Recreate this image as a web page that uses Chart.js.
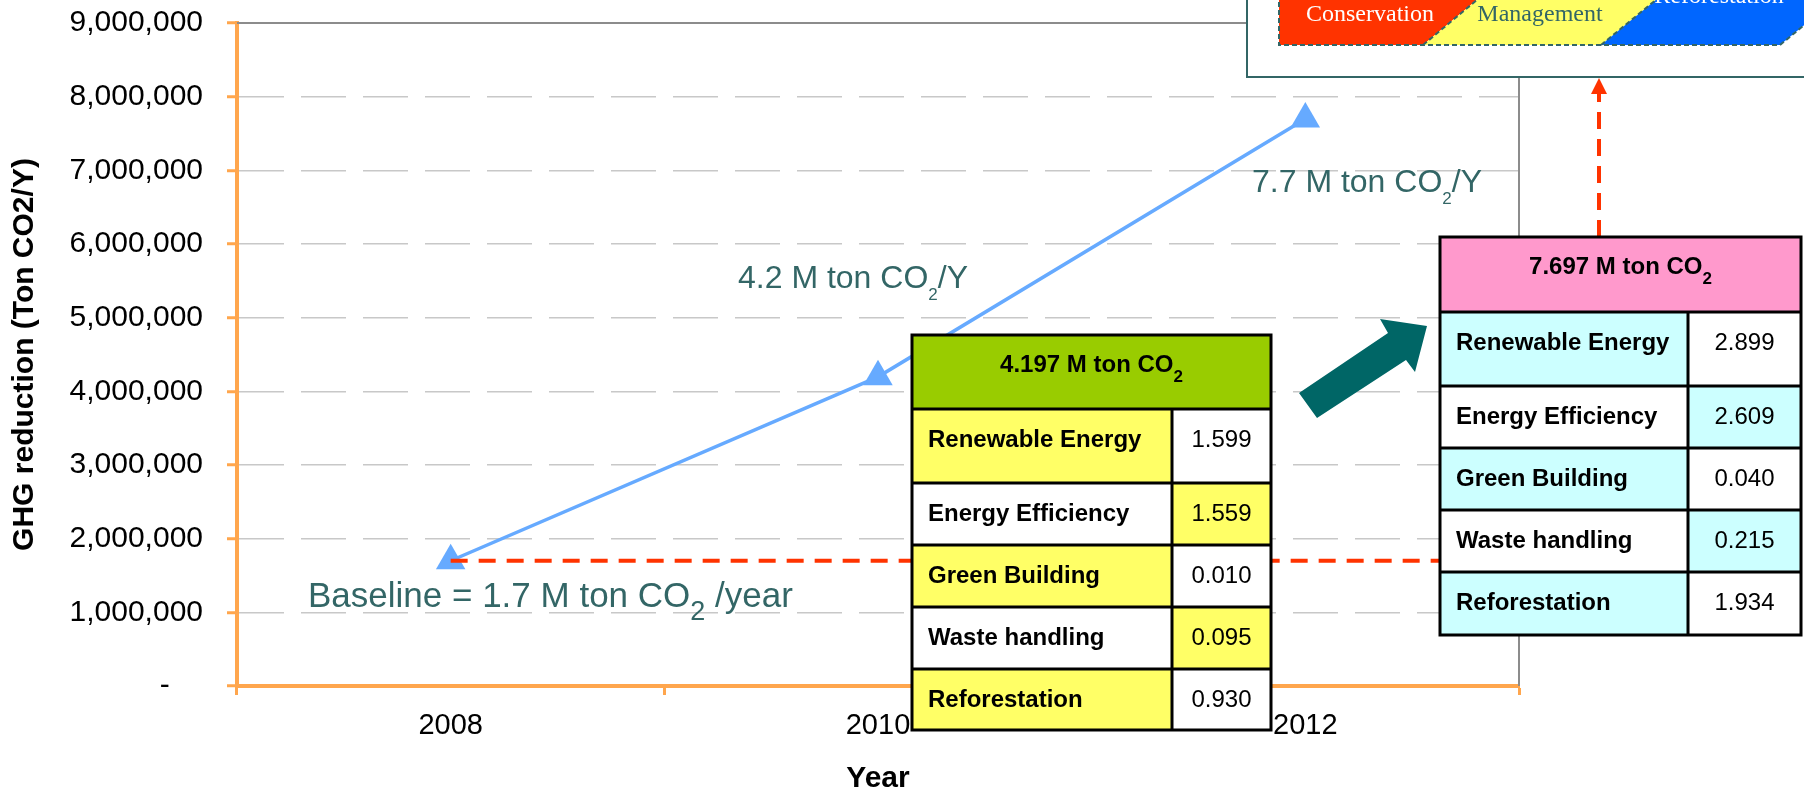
<!DOCTYPE html>
<html>
<head>
<meta charset="utf-8">
<script src="https://cdn.jsdelivr.net/npm/chart.js@4.4.1/dist/chart.umd.min.js"></script>
<style>
  html, body { margin: 0; padding: 0; background: #fff; }
  #wrap { width: 1804px; height: 800px; }
</style>
</head>
<body>
<div id="wrap"><canvas id="ghgChart" width="1804" height="800"></canvas></div>
<script>
// GHG reduction chart

const years = ['2008', '2010', '2012'];
const reduction = [1700000, 4197000, 7697000];
const yMax = 9000000;
const yStep = 1000000;

const sectors = ['Renewable Energy', 'Energy Efficiency', 'Green Building', 'Waste handling', 'Reforestation'];
const sector2010 = [1.599, 1.559, 0.010, 0.095, 0.930];
const sector2012 = [2.899, 2.609, 0.040, 0.215, 1.934];
const activities = ['Conservation', 'Management', 'Reforestation'];

const SANS = '"Liberation Sans", Arial, sans-serif';
const SERIF = '"Liberation Serif", "Times New Roman", serif';
const ORANGE = '#ffa64d';
const BLUE = '#66aaff';
const TEAL = '#336666';
const RED = '#ff3300';

Chart.defaults.font.family = SANS;

// text with a subscript "2" (CO2)
function co2Text(ctx, x, y, lead, tail, size, subSize, subDrop, weight) {
  const w0 = weight ? weight + ' ' : '';
  ctx.font = w0 + size + 'px ' + SANS;
  const a = ctx.measureText(lead).width;
  const c = ctx.measureText(tail).width;
  ctx.font = w0 + subSize + 'px ' + SANS;
  const b = ctx.measureText('2').width;
  if (x === null) return a + b + c;
  ctx.font = w0 + size + 'px ' + SANS;
  ctx.fillText(lead, x, y);
  ctx.fillText(tail, x + a + b, y);
  ctx.font = w0 + subSize + 'px ' + SANS;
  ctx.fillText('2', x + a, y + subDrop);
  return a + b + c;
}

function drawTable(ctx, left, split, right, tops, total, values, headColor, cellColor) {
  const last = tops.length - 1;
  ctx.fillStyle = headColor;
  ctx.fillRect(left, tops[0], right - left, tops[1] - tops[0]);
  for (let i = 0; i < values.length; i++) {
    const t = tops[i + 1], h = tops[i + 2] - t;
    ctx.fillStyle = i % 2 === 0 ? cellColor : '#ffffff';
    ctx.fillRect(left, t, split - left, h);
    ctx.fillStyle = i % 2 === 0 ? '#ffffff' : cellColor;
    ctx.fillRect(split, t, right - split, h);
  }
  ctx.strokeStyle = '#000';
  ctx.lineWidth = 3;
  ctx.beginPath();
  ctx.rect(left, tops[0], right - left, tops[last] - tops[0]);
  for (let i = 1; i < last; i++) {
    ctx.moveTo(left, tops[i]);
    ctx.lineTo(right, tops[i]);
  }
  ctx.moveTo(split, tops[1]);
  ctx.lineTo(split, tops[last]);
  ctx.stroke();

  ctx.fillStyle = '#000';
  ctx.textBaseline = 'alphabetic';
  ctx.textAlign = 'left';
  const lead = (total / 1000000).toFixed(3) + ' M ton CO';
  const tw = co2Text(ctx, null, 0, lead, '', 24, 17, 10, 'bold');
  co2Text(ctx, (left + right) / 2 - tw / 2, tops[0] + 37, lead, '', 24, 17, 10, 'bold');
  for (let i = 0; i < values.length; i++) {
    const base = tops[i + 1] + 38;
    ctx.textAlign = 'left';
    ctx.font = 'bold 24px ' + SANS;
    ctx.fillText(sectors[i], left + 16, base);
    ctx.textAlign = 'center';
    ctx.font = '24px ' + SANS;
    ctx.fillText(values[i].toFixed(3), (split + right) / 2, base);
  }
}

const overlay = {
  id: 'overlay',
  afterDraw(chart) {
    const ctx = chart.ctx;
    const area = chart.chartArea;
    const xs = chart.scales.x, ys = chart.scales.y;
    ctx.save();

    // plot frame (top and right)
    ctx.strokeStyle = '#8c8c8c';
    ctx.lineWidth = 2;
    ctx.beginPath();
    ctx.moveTo(area.left, area.top);
    ctx.lineTo(area.right, area.top);
    ctx.lineTo(area.right, area.bottom);
    ctx.stroke();

    // baseline dashed line
    const by = ys.getPixelForValue(reduction[0]);
    ctx.strokeStyle = RED;
    ctx.lineWidth = 4;
    ctx.setLineDash([17, 11]);
    ctx.beginPath();
    ctx.moveTo(xs.getPixelForValue(0), by);
    ctx.lineTo(1440, by);
    ctx.stroke();
    // dashed arrow up to the activity box
    ctx.setLineDash([17, 10]);
    ctx.beginPath();
    ctx.moveTo(1599, 237);
    ctx.lineTo(1599, 92);
    ctx.stroke();
    ctx.setLineDash([]);
    ctx.fillStyle = RED;
    ctx.beginPath();
    ctx.moveTo(1591, 94);
    ctx.lineTo(1607, 94);
    ctx.lineTo(1599, 78);
    ctx.closePath();
    ctx.fill();

    // value notes
    ctx.fillStyle = TEAL;
    ctx.textAlign = 'left';
    ctx.textBaseline = 'alphabetic';
    co2Text(ctx, 308, 607, 'Baseline = ' + (reduction[0] / 1000000).toFixed(1) + ' M ton CO', ' /year', 35, 27, 13);
    co2Text(ctx, 738, 288, (reduction[1] / 1000000).toFixed(1) + ' M ton CO', '/Y', 32, 17, 12);
    co2Text(ctx, 1252, 192, (reduction[2] / 1000000).toFixed(1) + ' M ton CO', '/Y', 32, 17, 12);

    // tables
    drawTable(ctx, 912, 1172, 1271, [335, 409, 483, 545, 607, 669, 730], reduction[1], sector2010, '#99cc00', '#ffff66');
    drawTable(ctx, 1440, 1688, 1801, [237, 312, 386, 448, 510, 572, 635], reduction[2], sector2012, '#ff99cc', '#ccffff');

    // block arrow between tables
    ctx.fillStyle = '#006666';
    ctx.beginPath();
    ctx.moveTo(1299, 393);
    ctx.lineTo(1388, 333);
    ctx.lineTo(1380, 319);
    ctx.lineTo(1427, 326);
    ctx.lineTo(1415, 372);
    ctx.lineTo(1406, 360);
    ctx.lineTo(1317, 418);
    ctx.closePath();
    ctx.fill();

    // activity box, top right
    ctx.fillStyle = '#ffffff';
    ctx.fillRect(1247, -10, 600, 87);
    ctx.strokeStyle = TEAL;
    ctx.lineWidth = 2;
    ctx.strokeRect(1247, -10, 600, 87);
    const bands = [
      [[1279, -6], [1484, -6], [1423, 45], [1279, 45], '#ff3300'],
      [[1484, -6], [1663, -6], [1601, 45], [1423, 45], '#ffff66'],
      [[1663, -6], [1842, -6], [1780, 45], [1601, 45], '#0066ff']
    ];
    bands.forEach(b => {
      ctx.fillStyle = b[4];
      ctx.beginPath();
      ctx.moveTo(b[0][0], b[0][1]);
      for (let k = 1; k < 4; k++) ctx.lineTo(b[k][0], b[k][1]);
      ctx.closePath();
      ctx.fill();
    });
    ctx.strokeStyle = TEAL;
    ctx.lineWidth = 2;
    ctx.setLineDash([5, 3]);
    ctx.beginPath();
    ctx.moveTo(1279, -6);
    ctx.lineTo(1279, 45);
    ctx.lineTo(1780, 45);
    ctx.lineTo(1842, -6);
    ctx.moveTo(1423, 45); ctx.lineTo(1484, -6);
    ctx.moveTo(1601, 45); ctx.lineTo(1663, -6);
    ctx.stroke();
    ctx.setLineDash([]);
    ctx.textAlign = 'center';
    ctx.font = '24px ' + SERIF;
    ctx.fillStyle = '#ffffff';
    ctx.fillText(activities[0], 1370, 21);
    ctx.fillStyle = TEAL;
    ctx.fillText(activities[1], 1540, 21);
    ctx.fillStyle = '#ffffff';
    ctx.fillText(activities[2], 1719, 3);

    ctx.restore();
  }
};

new Chart(document.getElementById('ghgChart'), {
  type: 'line',
  data: {
    labels: years,
    datasets: [{
      label: 'GHG reduction',
      data: reduction,
      borderColor: BLUE,
      backgroundColor: BLUE,
      borderWidth: 3.5,
      pointStyle: 'triangle',
      pointRadius: 17,
      pointHoverRadius: 17,
      pointBorderWidth: 0,
      tension: 0,
      clip: false
    }]
  },
  options: {
    responsive: false,
    animation: false,
    layout: {
      padding: { top: 23, right: 285, bottom: 0, left: 0 }
    },
    plugins: {
      legend: { display: false },
      tooltip: { enabled: false }
    },
    scales: {
      x: {
        offset: true,
        grid: {
          offset: true,
          drawOnChartArea: false,
          tickLength: 9,
          tickColor: ORANGE,
          tickWidth: 3
        },
        border: { color: ORANGE, width: 4 },
        ticks: {
          color: '#000',
          font: { size: 29 },
          padding: 14
        },
        title: {
          display: true,
          text: 'Year',
          color: '#000',
          font: { size: 30, weight: 'bold' },
          padding: { top: 0, bottom: 3 }
        },
        afterFit(scale) { scale.height = 114; }
      },
      y: {
        min: 0,
        max: yMax,
        ticks: {
          stepSize: yStep,
          color: '#000',
          font: { size: 30 },
          padding: 24,
          callback: function(value) {
            return value === 0 ? '-    ' : value.toLocaleString('en-US');
          }
        },
        grid: {
          color: '#c8c8c8',
          lineWidth: 1.5,
          tickLength: 10,
          tickColor: ORANGE,
          tickWidth: 3
        },
        border: { color: ORANGE, width: 4, dash: [45, 17] },
        title: {
          display: true,
          text: 'GHG reduction (Ton CO2/Y)',
          color: '#000',
          font: { size: 30, weight: 'bold' },
          padding: { top: 7, bottom: 0 }
        },
        afterFit(scale) {
          scale.width = 237;
          scale.paddingTop = 0;
          scale.paddingBottom = 0;
        }
      }
    }
  },
  plugins: [overlay]
});
</script>
</body>
</html>
